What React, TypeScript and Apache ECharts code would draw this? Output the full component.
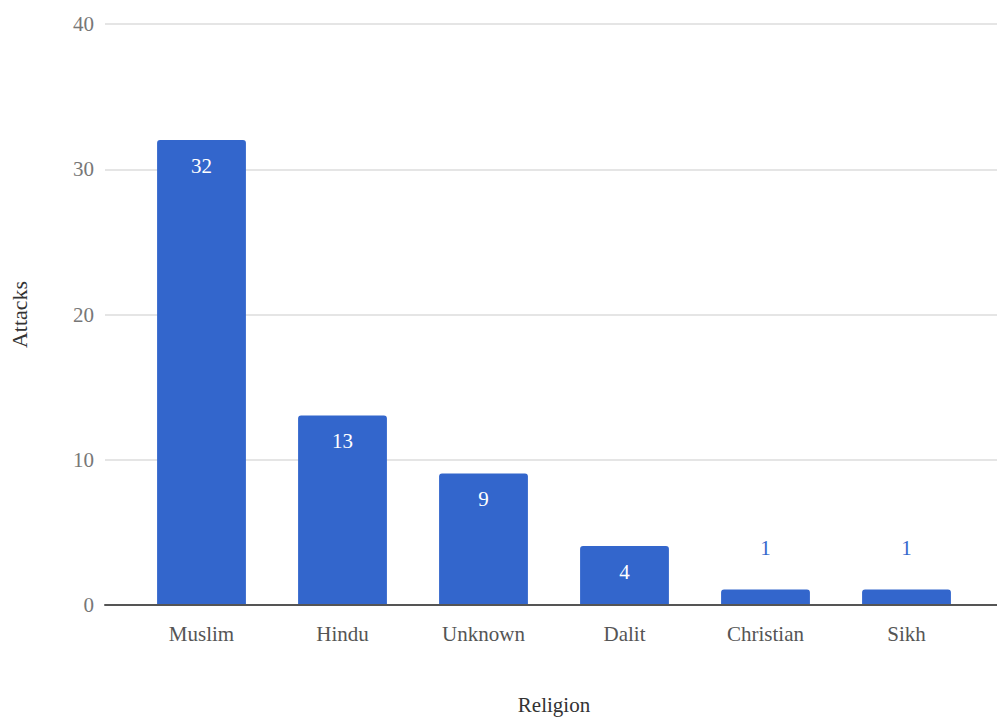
import React, { useEffect, useRef } from "react";
import * as echarts from "echarts";

const categories = ["Muslim", "Hindu", "Unknown", "Dalit", "Christian", "Sikh"];
const attacks = [32, 13, 9, 4, 1, 1];
const yTicks = [0, 10, 20, 30, 40];
const yTitle = "Attacks";
const xTitle = "Religion";

const BLUE = "#3366CC";
const FONT = "'Liberation Serif', 'Times New Roman', serif";

export default function App() {
  const ref = useRef<HTMLDivElement>(null);
  useEffect(() => {
    if (!ref.current) return;
    const chart = echarts.init(ref.current, null, { renderer: "svg" });
    const yMax = yTicks[yTicks.length - 1];
    const interval = yTicks[1] - yTicks[0];
    chart.setOption({
      animation: false,
      textStyle: { fontFamily: FONT },
      grid: [
        { left: 105, right: 0, top: 24, bottom: 115 },
        { left: 131, right: 20, top: 24, bottom: 115 },
      ],
      xAxis: [
        {
          gridIndex: 0,
          type: "value",
          min: 0,
          max: 1,
          axisLine: { show: true, lineStyle: { color: "#555", width: 2 } },
          axisTick: { show: false },
          axisLabel: { show: false },
          splitLine: { show: false },
        },
        {
          gridIndex: 1,
          type: "category",
          data: categories,
          axisLine: { show: false },
          axisTick: { show: false },
          axisLabel: {
            color: "#555",
            fontSize: 21,
            fontFamily: FONT,
            margin: 19,
          },
          name: xTitle,
          nameLocation: "middle",
          nameGap: 90,
          nameTextStyle: { color: "#333", fontSize: 21, fontFamily: FONT },
        },
      ],
      yAxis: [
        {
          gridIndex: 0,
          type: "value",
          min: 0,
          max: yMax,
          interval,
          axisLine: { show: false },
          axisTick: { show: false },
          axisLabel: { color: "#777", fontSize: 21, fontFamily: FONT, margin: 11 },
          splitLine: { lineStyle: { color: "#dcdcdc", width: 1.5 } },
          name: yTitle,
          nameLocation: "middle",
          nameGap: 75,
          nameRotate: 90,
          nameTextStyle: { color: "#333", fontSize: 22, fontFamily: FONT },
        },
        {
          gridIndex: 1,
          type: "value",
          min: 0,
          max: yMax,
          interval,
          show: false,
          splitLine: { show: false },
        },
      ],
      series: [
        {
          type: "bar",
          xAxisIndex: 1,
          yAxisIndex: 1,
          barWidth: "63%",
          itemStyle: { color: BLUE, borderRadius: [3, 3, 0, 0] },
          data: attacks.map((v) => ({
            value: v,
            label:
              v >= 3
                ? {
                    show: true,
                    position: "insideTop",
                    distance: 15,
                    color: "#fff",
                    fontSize: 21,
                    fontFamily: FONT,
                  }
                : {
                    show: true,
                    position: "top",
                    distance: 31,
                    color: BLUE,
                    fontSize: 21,
                    fontFamily: FONT,
                  },
          })),
        },
      ],
    });
    return () => chart.dispose();
  }, []);
  return (
    <div
      ref={ref}
      style={{ position: "fixed", left: 0, top: 0, width: 997, height: 720, background: "#fff" }}
    />
  );
}
